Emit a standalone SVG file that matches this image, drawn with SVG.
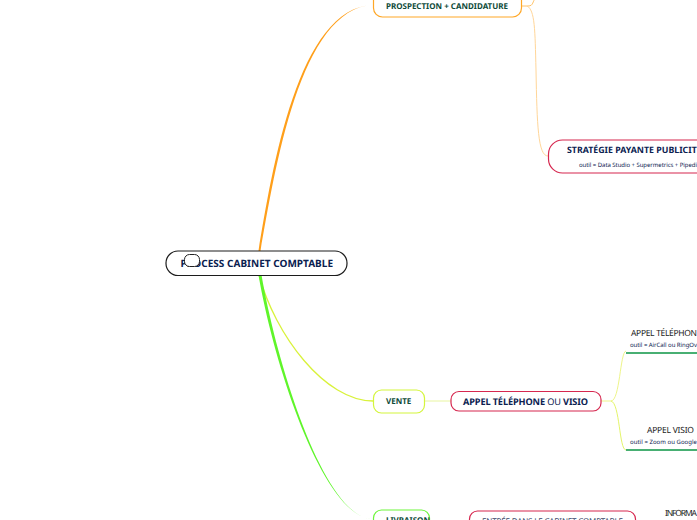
<svg xmlns="http://www.w3.org/2000/svg" width="697" height="520" viewBox="0 0 697 520">
<style>
text{font-family:"Noto Sans","Open Sans",sans-serif;text-rendering:geometricPrecision}
.n{fill:#fff;stroke-width:1.2}
.b{font-weight:700}
.c{fill:none}
</style>
<rect width="697" height="520" fill="#fff"/>
<g id="connectors">
<path d="M258.500 251C272 170 298 7 373 5C300 8 275 170 260.500 251Z" fill="#ff9f1a"/>
<path class="c" d="M259 275C275 335 325 401 373 401" stroke="#d9f23a" stroke-width="1.3"/>
<path d="M258.500 275C275 370 325 519 373 519C326 519.500 278 370 261.500 275Z" fill="#5ff52a"/>
<path class="c" d="M522 6H528C534 6 532 1 536 -2" stroke="#ffc266" stroke-width="1"/>
<path class="c" d="M527 6C535 10 535 30 536 70C537 125 538 156 548 156" stroke="#ffd699" stroke-width="1"/>
<path class="c" d="M425 401H451" stroke="#e8f5a0" stroke-width="1"/>
<path class="c" d="M601 401H611C620 401 620 352 626 351" stroke="#eef58a" stroke-width="1"/>
<path class="c" d="M611 401C620 403 619 450 626 450" stroke="#e4f56a" stroke-width="1"/>
<path class="c" d="M626 353H697" stroke="#0b9444" stroke-width="1.4"/>
<path class="c" d="M626 450H697" stroke="#0b9444" stroke-width="1.4"/>
</g>
<g id="root">
<rect class="n" x="166" y="251" width="181" height="24.500" rx="12" stroke="#1c1c1c"/>
<text class="b" x="180.500" y="266.500" font-size="10" fill="#0b2150" textLength="152.500">PROCESS CABINET COMPTABLE</text>
<rect x="184.500" y="254.500" width="15" height="12" rx="5" fill="#fff" stroke="#222" stroke-width="1"/>
</g>
<g id="prospection">
<rect class="n" x="373.500" y="-10" width="148" height="27" rx="9" stroke="#ffa726"/>
<text class="b" x="386" y="9" font-size="8" fill="#0d4a38" textLength="122">PROSPECTION + CANDIDATURE</text>
</g>
<g id="strategie">
<rect class="n" x="548.500" y="140" width="170" height="33" rx="14" stroke="#d6274f"/>
<text class="b" x="567" y="153" font-size="8.800" fill="#0b2150">STRATÉGIE PAYANTE PUBLICIT</text>
<text x="579" y="167" font-size="6" fill="#0b2150" textLength="118">outil = Data Studio + Supermetrics + Pipedi</text>
</g>
<g id="vente">
<rect class="n" x="373.500" y="390" width="51" height="23" rx="8" stroke="#d4f53c"/>
<text class="b" x="386" y="404" font-size="8" fill="#0d4a38">VENTE</text>
</g>
<g id="appel">
<rect class="n" x="451" y="391.500" width="150" height="19.500" rx="8" stroke="#d6274f"/>
<text x="463" y="405" font-size="9.200" fill="#0b2150" textLength="125"><tspan class="b">APPEL TÉLÉPHONE</tspan> OU <tspan class="b">VISIO</tspan></text>
</g>
<g id="appel-tel">
<text x="631" y="336" font-size="8.500" fill="#1c1c1c" textLength="66">APPEL TÉLÉPHON</text>
<text x="630" y="347" font-size="6" fill="#0b2150" textLength="67">outil = AirCall ou RingOv</text>
</g>
<g id="appel-visio">
<text x="647" y="433" font-size="8.500" fill="#1c1c1c" textLength="47">APPEL VISIO</text>
<text x="630" y="444" font-size="6" fill="#0b2150" textLength="67">outil = Zoom ou Google </text>
</g>
<g id="livraison">
<rect class="n" x="373.500" y="510" width="56" height="30" rx="8" stroke="#6cf53a"/>
<text class="b" x="386" y="523" font-size="8" fill="#0d4a38">LIVRAISON</text>
</g>
<g id="entree">
<rect class="n" x="469.500" y="511" width="166" height="30" rx="8" stroke="#d6274f"/>
<text x="482" y="524" font-size="8" fill="#3a4668" textLength="141">ENTRÉE DANS LE CABINET COMPTABLE</text>
</g>
<g id="information">
<text x="665" y="516" font-size="8.500" fill="#1c1c1c" textLength="32">INFORMA</text>
</g>
</svg>
